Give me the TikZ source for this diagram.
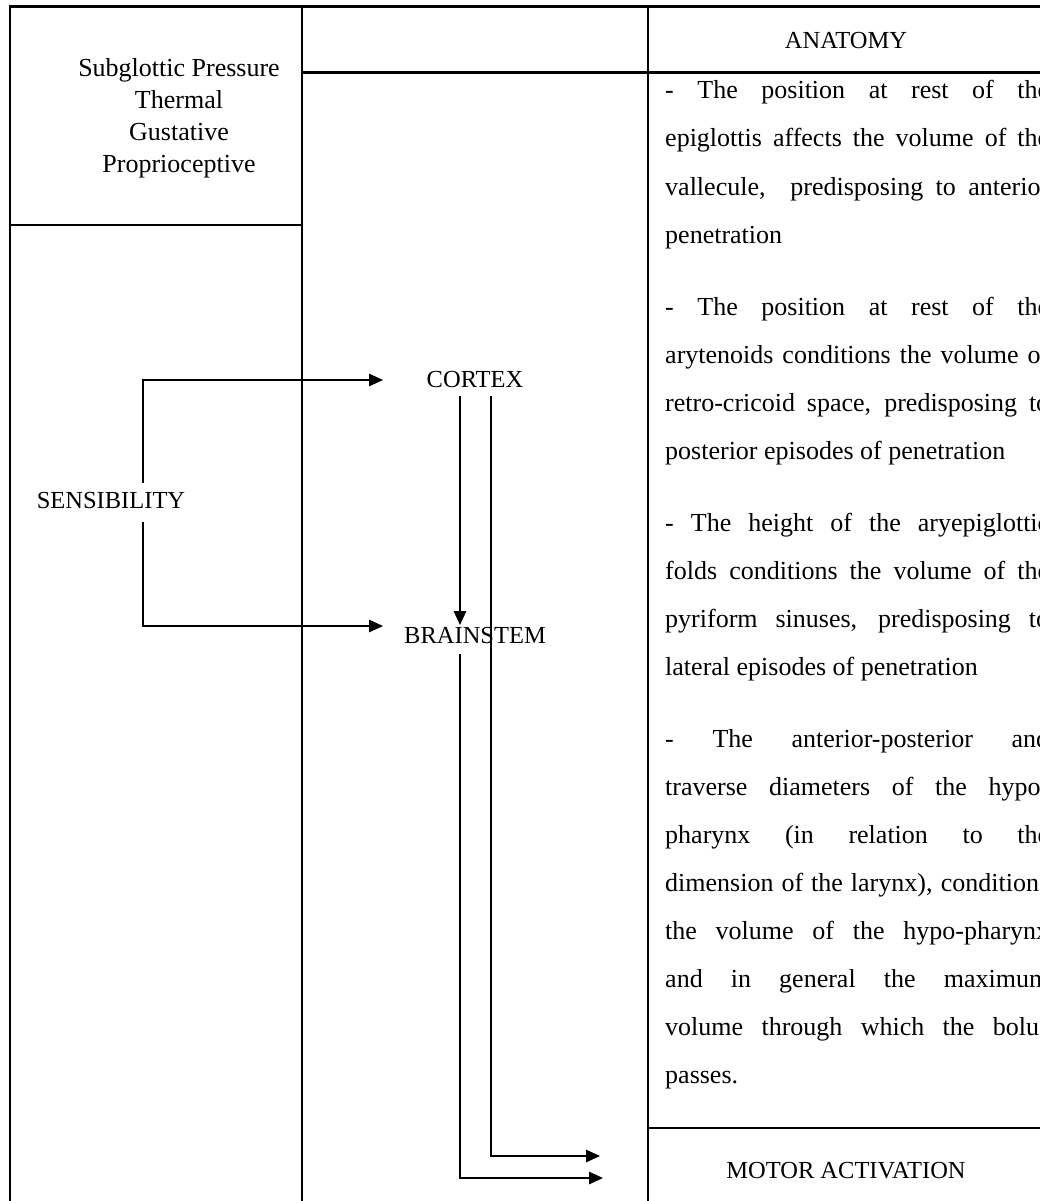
\documentclass[tikz,border=0pt]{standalone}
\usepackage{fontspec}
\setmainfont{Liberation Serif}
\usetikzlibrary{arrows.meta}
\newlength{\jw}\setlength{\jw}{384pt}
\newcommand{\jline}[1]{\hbox to \jw{#1}}
\begin{document}
\begin{tikzpicture}[x=1pt,y=-1pt,
  tbl/.style={line width=2.4pt},
  conn/.style={line width=1.3pt,-{Triangle[length=14pt,width=12.5pt]}},
  lbl/.style={inner sep=0pt,font=\fontsize{26}{30}\selectfont},
  caplbl/.style={inner sep=0pt,font=\fontsize{24.5}{30}\selectfont},
  body/.style={lbl,anchor=base west}]
\useasboundingbox (0,0) rectangle (1040,1201);
\fill[white] (0,0) rectangle (1040,1201);
% table grid
\draw[tbl] (10,1215) -- (10,6.5) -- (1060,6.5);
\draw[tbl] (302,6.5) -- (302,1215);
\draw[tbl] (648,6.5) -- (648,1215);
\draw[tbl] (10,225) -- (302,225);
\draw[tbl] (302,72.5) -- (1060,72.5);
\draw[tbl] (648,1128) -- (1060,1128);
% left column header
\node[lbl,anchor=base] (h1) at (179,77) {Subglottic Pressure};
\node[lbl,anchor=base] (h2) at (179,109) {Thermal};
\node[lbl,anchor=base] (h3) at (179,141) {Gustative};
\node[lbl,anchor=base] (h4) at (179,173) {Proprioceptive};
\node[caplbl,anchor=base] (anat) at (846,49) {ANATOMY};
% flow labels
\node[caplbl,anchor=base] (sens) at (111,508) {SENSIBILITY};
\node[caplbl,anchor=base] (cortex) at (475,387) {CORTEX};
\node[caplbl,anchor=base] (brain) at (475,643) {BRAINSTEM};
\node[caplbl,anchor=base] (motor) at (846,1178) {MOTOR ACTIVATION};
% connector points
\coordinate (sUp) at (143,483);
\coordinate (sDn) at (143,522);
\coordinate (cIn) at (383,380);
\coordinate (bIn) at (383,626);
\coordinate (cOutA) at (460,396);
\coordinate (bInTop) at (460,625);
\coordinate (cOutB) at (491,396);
\coordinate (bOut) at (460,654);
\coordinate (mInA) at (600,1156);
\coordinate (mInB) at (603,1178);
\draw[conn] (sUp) |- (cIn);
\draw[conn] (sDn) |- (bIn);
\draw[conn,line width=1.7pt] (cOutA) -- (bInTop);
\draw[conn] (cOutB) |- (mInA);
\draw[conn] (bOut) |- (mInB);
% anatomy text
\node[body] (p1a) at (665,99) {\jline{- The position at rest of the}};
\node[body] (p1b) at (665,147) {\jline{epiglottis affects the volume of the}};
\node[body] (p1c) at (665,195) {\jline{vallecule,\ \ predisposing to anterior}};
\node[body] (p1d) at (665,243) {penetration};
\node[body] (p2a) at (665,315) {\jline{- The position at rest of the}};
\node[body] (p2b) at (665,363) {\jline{arytenoids conditions the volume of}};
\node[body] (p2c) at (665,411) {\jline{retro-cricoid space, predisposing to}};
\node[body] (p2d) at (665,459) {posterior episodes of penetration};
\node[body] (p3a) at (665,531) {\jline{- The height of the aryepiglottic}};
\node[body] (p3b) at (665,579) {\jline{folds conditions the volume of the}};
\node[body] (p3c) at (665,627) {\jline{pyriform sinuses, predisposing to}};
\node[body] (p3d) at (665,675) {lateral episodes of penetration};
\node[body] (p4a) at (665,747) {\jline{- The anterior-posterior and}};
\node[body] (p4b) at (665,795) {\jline{traverse diameters of the hypo-}};
\node[body] (p4c) at (665,843) {\jline{pharynx (in relation to the}};
\node[body] (p4d) at (665,891) {\jline{dimension of the larynx), conditions}};
\node[body] (p4e) at (665,939) {\jline{the volume of the hypo-pharynx}};
\node[body] (p4f) at (665,987) {\jline{and in general the maximum}};
\node[body] (p4g) at (665,1035) {\jline{volume through which the bolus}};
\node[body] (p4h) at (665,1083) {passes.};
\end{tikzpicture}
\end{document}
